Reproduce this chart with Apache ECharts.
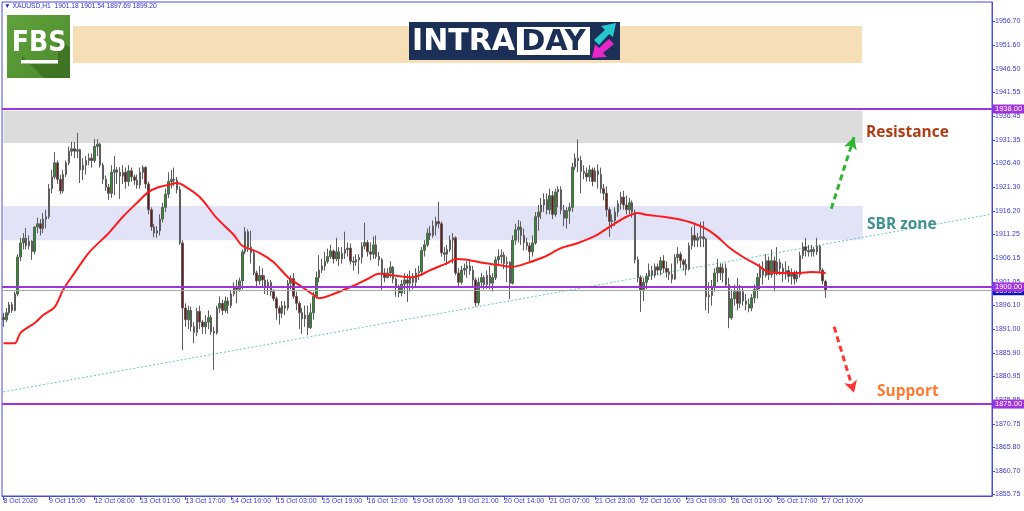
<!DOCTYPE html>
<html><head><meta charset="utf-8">
<script src="https://cdn.jsdelivr.net/npm/echarts@6/dist/echarts.min.js"></script>
<style>html,body{margin:0;padding:0;background:#fff}#c{width:1024px;height:511px}</style>
</head><body><div id="c"></div><script>
// ---------- data ----------
const xTickLabels = ['8 Oct 2020','9 Oct 15:00','12 Oct 08:00','13 Oct 01:00','13 Oct 17:00','14 Oct 10:00','15 Oct 03:00','15 Oct 19:00','16 Oct 12:00','19 Oct 05:00','19 Oct 21:00','20 Oct 14:00','21 Oct 07:00','21 Oct 23:00','22 Oct 16:00','23 Oct 09:00','26 Oct 01:00','26 Oct 17:00','27 Oct 10:00'];
const barsPerXTick = 16;
const slotCount = 348;
const yTickLabels = ['1855.75','1860.70','1865.80','1870.75','1875.85','1880.95','1885.90','1891.00','1896.10','1901.05','1906.15','1911.25','1916.20','1921.30','1926.40','1931.35','1936.45','1941.55','1946.50','1951.60','1956.70'];
const yMin = 1855.37, yMax = 1960.85;
// candles: [open, close, low, high]
const candles = [
[1893.5,1893,1891.5,1894.5],[1893,1894.5,1892.5,1895.5],[1894.5,1896.2,1894,1896.8],[1896.2,1895,1894.5,1896.8],[1895,1898.5,1894.8,1899],
[1898.5,1906.4,1898,1907],[1906.4,1909.4,1905.5,1910.5],[1909.4,1910.4,1908,1911.5],[1910.4,1908.8,1908,1912.6],[1908.8,1909.8,1908,1911],
[1909.8,1907.6,1905.8,1910],[1907.6,1912.8,1907,1913],[1912.8,1913.5,1911.5,1914.8],[1913.5,1912.5,1911,1914.5],[1912.5,1914.5,1911.5,1915.8],
[1914.5,1915,1912.5,1916.5],[1915,1921,1914.5,1922],[1921,1923.5,1920,1925],[1923.5,1926.5,1923,1928.8],[1926.5,1923,1922,1927],
[1923,1920.5,1919.8,1924],[1920.5,1924,1920,1925],[1924,1926.5,1923.5,1927],[1926.5,1929,1926,1930],[1929,1929.5,1928,1931],
[1929.5,1929,1927.5,1931],[1929,1929.3,1927.5,1932.9],[1929.3,1925,1922.2,1929.5],[1925,1926,1922.8,1927.5],[1926,1927,1924,1928],
[1927,1927.5,1926,1928.5],[1927.5,1927,1925.5,1928.5],[1927,1930,1926.5,1931.6],[1930,1930.5,1928,1931.6],[1930.5,1926,1925.5,1930.8],
[1926,1923,1922,1926.5],[1923,1921.3,1920.5,1923.8],[1921.3,1920,1918.6,1922],[1920,1924.5,1919,1926],[1924.5,1925,1919.6,1928],
[1925,1924.5,1922,1925.6],[1924.5,1923.7,1918.8,1925.6],[1923.7,1924.5,1922,1926],[1924.5,1922.5,1921,1925.5],[1922.5,1924.8,1921.5,1926],
[1924.8,1923.5,1922.5,1925.5],[1923.5,1922.8,1921.8,1924],[1922.8,1921.8,1921,1924],[1921.8,1924.5,1921,1925.5],[1924.5,1925.5,1923,1926],
[1925.5,1922,1921,1925.8],[1922,1916.5,1915.5,1922.5],[1916.5,1912.8,1912,1917],[1912.8,1911.5,1910.6,1913.5],[1911.5,1912,1910.5,1913],
[1912,1914.5,1911,1915.5],[1914.5,1917,1913.8,1918],[1917,1919.8,1916,1921],[1919.8,1922.5,1919,1924.5],[1922.5,1923,1921,1925],
[1923,1922.8,1921.5,1925.5],[1922.8,1920.8,1920,1923.5],[1920.8,1909.4,1909,1921.5],[1909.4,1895.5,1886.5,1910],[1895.5,1893,1891.5,1896.5],
[1893,1895,1891,1896],[1895,1891.5,1890.5,1895.8],[1891.5,1890.3,1888,1892.5],[1890.3,1894.8,1889.5,1895.6],[1894.8,1892.5,1891,1896],
[1892.5,1891.5,1890,1893],[1891.5,1892.5,1890,1894],[1892.5,1893.5,1891,1895],[1893.5,1890.5,1889.8,1894],[1890.5,1890.2,1882.3,1891.5],
[1890.2,1895.5,1889.8,1896],[1895.5,1896.5,1894.5,1898],[1896.5,1895,1894,1897.3],[1895,1897,1894.5,1898],[1897,1896,1894.3,1897.8],
[1896,1898.5,1895.5,1899.4],[1898.5,1900,1898,1901],[1900,1899.5,1896.5,1901.5],[1899.5,1901.3,1899,1902],[1901.3,1907.5,1899.5,1908],
[1907.5,1911.8,1907,1912.8],[1911.8,1908.5,1907.5,1912.3],[1908.5,1907.3,1905,1912],[1907.3,1903,1902.5,1908],[1903,1901.3,1900,1903.5],
[1901.3,1902.5,1900.5,1904.5],[1902.5,1901.5,1900,1904],[1901.5,1900,1898.5,1902.5],[1900,1901,1898.3,1901.6],[1901,1899,1898,1901.5],
[1899,1897.5,1897,1899.5],[1897.5,1895.5,1893,1898],[1895.5,1894.4,1892,1896],[1894.4,1896,1893.4,1897],[1896,1895.5,1894,1897],
[1895.5,1900.8,1895,1901.5],[1900.8,1901.8,1899.5,1902.5],[1901.8,1898,1897.5,1903],[1898,1896.5,1895,1899],[1896.5,1894.5,1891,1897],
[1894.5,1893.2,1890,1895.5],[1893.2,1894,1891.5,1896],[1894,1891.3,1889.7,1896],[1891.3,1894.5,1891,1896.5],[1894.5,1898,1893,1899],
[1898,1902,1897.5,1903.3],[1902,1903.6,1901,1906.8],[1903.6,1904.5,1903,1906],[1904.5,1905.5,1903.5,1907.5],[1905.5,1906.5,1905,1908.2],
[1906.5,1907.7,1906,1909],[1907.7,1906,1905,1908],[1906,1907.5,1905.5,1910.5],[1907.5,1906,1904.5,1908.5],[1906,1907.2,1905,1908.5],
[1907.2,1908,1906,1911.8],[1908,1908.3,1906.5,1909.5],[1908.3,1905.5,1904.8,1909.3],[1905.5,1905.3,1903.5,1906.5],[1905.3,1905.8,1904.5,1907],
[1905.8,1906.3,1902.7,1907],[1906.3,1908.7,1905,1909.6],[1908.7,1909.5,1908,1913.7],[1909.5,1907.5,1906.5,1910],[1907.5,1907,1905.7,1909.5],
[1907,1909,1906,1910.8],[1909,1906.5,1906,1911],[1906.5,1905.8,1904.5,1907.5],[1905.8,1903,1899.4,1906.2],[1903,1902,1901,1904],
[1902,1903,1901.8,1904],[1903,1904.2,1902,1905.5],[1904.2,1901.7,1900.8,1904.5],[1901.7,1900,1897.9,1902],[1900,1898.7,1897.8,1900.5],
[1898.7,1900.6,1898,1901.5],[1900.6,1901.5,1898.5,1903],[1901.5,1900.8,1896.8,1902.8],[1900.8,1902,1899,1903.5],[1902,1901,1899.5,1903],
[1901,1903,1900,1904],[1903,1903.3,1901.5,1904.5],[1903.3,1907.8,1902.5,1908.5],[1907.8,1909,1906.5,1910],[1909,1911.5,1908.5,1912.5],
[1911.5,1911,1910,1913],[1911,1913,1910.5,1914.2],[1913,1914,1911,1915],[1914,1913.5,1912.5,1918.2],[1913.5,1907.3,1906.5,1914],
[1907.3,1907,1905.5,1908.5],[1907,1908,1904.7,1909],[1908,1910,1907.5,1911],[1910,1910.5,1905,1911.5],[1910.5,1903,1902.5,1910.8],
[1903,1901,1900,1904],[1901,1903.6,1900.5,1904.5],[1903.6,1904,1902.5,1905],[1904,1904.5,1902,1905.5],[1904.5,1903.5,1902.6,1905.5],
[1903.5,1901.5,1900,1904.5],[1901.5,1896.6,1895.8,1902],[1896.6,1901,1896,1902],[1901,1902,1900,1903],[1902,1900.5,1899.5,1902.5],
[1900.5,1902.5,1899.6,1903.5],[1902.5,1900.8,1899.5,1904.5],[1900.8,1902,1899,1903],[1902,1905.8,1901.5,1906.5],[1905.8,1906.5,1904.8,1908],
[1906.5,1906.8,1905,1908],[1906.8,1905,1903.8,1907.5],[1905,1905.3,1901,1906.5],[1905.3,1900.8,1897.4,1905.5],[1900.8,1910,1900.5,1911],
[1910,1912.2,1909,1913.5],[1912.2,1912.8,1909.5,1914.3],[1912.8,1911,1909,1914],[1911,1909.5,1907.8,1912.5],[1909.5,1908.8,1907.9,1910.5],
[1908.8,1907.5,1905.5,1909.5],[1907.5,1909.4,1906.5,1911],[1909.4,1915,1909,1916],[1915,1916,1912,1917.5],[1916,1917.5,1914.5,1919],
[1917.5,1918.7,1916,1920],[1918.7,1916.5,1915.5,1920],[1916.5,1919.5,1915.5,1921],[1919.5,1915.5,1914.5,1920.5],[1915.5,1920.3,1915,1921],
[1920.3,1920.8,1917,1921.5],[1920.8,1916.4,1915.5,1921.5],[1916.4,1914.7,1913,1917.5],[1914.7,1916.3,1912.5,1917],[1916.3,1917,1913.5,1918],
[1917,1925.6,1916,1926.5],[1925.6,1927.5,1925,1928.5],[1927.5,1927,1924.5,1931.5],[1927,1924.7,1920,1928],[1924.7,1924.3,1923,1926],
[1924.3,1923.5,1922.5,1925.5],[1923.5,1925,1922.5,1926],[1925,1922.5,1921.5,1925.5],[1922.5,1924.8,1922.5,1925.5],[1924.8,1924,1921,1926.2],
[1924,1921,1920,1925.5],[1921,1920,1918.5,1922],[1920,1916.5,1915,1921.5],[1916.5,1914,1910.7,1917],[1914,1914.2,1912.5,1915.5],
[1914.2,1916,1913,1917],[1916,1917.8,1915,1918.5],[1917.8,1919.2,1916.5,1920.3],[1919.2,1917.5,1916.5,1920.5],[1917.5,1916.5,1915.5,1919.5],
[1916.5,1918,1915.5,1919],[1918,1916,1914.8,1918.5],[1916,1905.8,1905,1916.5],[1905.8,1902,1901,1906.5],[1902,1899.4,1894.7,1902.5],
[1899.4,1901,1897,1902],[1901,1902.3,1899.5,1903],[1902.3,1903.5,1901.5,1905],[1903.5,1902.5,1901.5,1904.5],[1902.5,1904.3,1902,1905],
[1904.3,1903.6,1902.5,1905],[1903.6,1905.6,1902.5,1906.4],[1905.6,1904,1903,1906.8],[1904,1903.2,1902,1905.5],[1903.2,1902.7,1901.5,1904],
[1902.7,1901.7,1900.8,1905],[1901.7,1906.3,1901.5,1907],[1906.3,1907,1905,1908.5],[1907,1905.6,1904,1907.5],[1905.6,1904.8,1903.5,1906],
[1904.8,1903.8,1902.5,1906],[1903.8,1908.8,1903.5,1909.5],[1908.8,1911,1908,1912.8],[1911,1910,1908.5,1913.5],[1910,1910.5,1908.5,1911.5],
[1910.5,1910.7,1908.5,1913.9],[1910.7,1910.3,1908.5,1914],[1910.3,1897.9,1895,1910.5],[1897.9,1898.2,1894.4,1901],[1898.2,1900,1896,1901.5],
[1900,1903,1899,1904],[1903,1904.2,1901,1906],[1904.2,1903,1901.5,1905],[1903,1904,1901,1905],[1904,1900.5,1900,1905],
[1900.5,1893.4,1891.2,1902],[1893.4,1897.5,1893,1899.5],[1897.5,1899,1896,1900.5],[1899,1896.5,1895,1901.9],[1896.5,1899,1895.5,1900.5],
[1899,1897,1896,1900],[1897,1896.3,1895,1898.5],[1896.3,1895.5,1894.6,1897.5],[1895.5,1897.7,1894.8,1898.5],[1897.7,1899.5,1896.5,1900.5],
[1899.5,1902,1897.5,1903],[1902,1904,1899.5,1905],[1904,1902.5,1900.5,1905.5],[1902.5,1905.6,1902,1907],[1905.6,1902.6,1901.5,1906.5],
[1902.6,1905.6,1902,1908],[1905.6,1903,1899,1906.5],[1903,1905.3,1902.5,1908.5],[1905.3,1904,1902.5,1906],[1904,1902.8,1901,1905],
[1902.8,1903.5,1901.6,1905.5],[1903.5,1902.3,1901,1904.5],[1902.3,1903,1900.5,1904],[1903,1901.7,1900.5,1903.5],[1901.7,1902.6,1901,1903.5],
[1902.6,1906.7,1902,1907.5],[1906.7,1908.6,1906,1909.5],[1908.6,1907.8,1906.5,1910.5],[1907.8,1907.5,1906.5,1909],[1907.5,1908,1906.5,1909],
[1908,1907.5,1906.5,1908.5],[1907.5,1908.7,1906.8,1910.5],[1908.7,1903.6,1903,1909],[1903.6,1901.3,1900.5,1904],[1901.18,1899.20,1897.69,1901.54]
];
// moving average samples: [bar index, price]
const maPoints = [[0,1888.0],[4,1888.0],[6,1890.2],[11,1892.3],[14,1894.0],[18,1895.7],[21,1899.4],[25,1903.0],[30,1907.3],[37,1911.5],[42,1915.0],[47,1918.0],[51,1920.3],[54,1921.2],[58,1921.8],[61,1922.2],[63,1921.8],[69,1919.2],[75,1914.7],[81,1911.1],[84,1908.8],[90,1907.3],[95,1905.3],[100,1902.1],[105,1900.0],[109,1898.3],[111,1897.6],[116,1898.5],[122,1900.0],[128,1901.7],[132,1902.8],[138,1902.4],[143,1902.1],[146,1902.4],[150,1903.6],[156,1905.1],[159,1906.0],[163,1905.8],[169,1905.1],[174,1904.7],[179,1904.3],[184,1905.1],[190,1906.4],[196,1908.3],[202,1909.4],[208,1910.9],[214,1913.2],[219,1915.0],[223,1915.8],[226,1915.4],[232,1915.0],[237,1914.5],[242,1913.7],[247,1912.4],[251,1910.7],[255,1908.5],[260,1906.4],[265,1904.7],[269,1903.2],[274,1903.0],[280,1903.0],[284,1903.2],[289,1903.0]];
const trendLine = [[0,1877.6],[347,1915.5]];
const resistanceZone = [1930.75, 1937.58];
const sbrZone = [1910.0, 1917.3];
const zoneEnd = 302;
const levelLines = [1938.00, 1900.00, 1875.00];
const bidLevel = 1899.20;
const upArrow = [[291,1916.7],[299,1932.0]];
const downArrow = [[292,1891.5],[299,1877.4]];
const headerText = 'XAUUSD,H1  1901.18 1901.54 1897.69 1899.20';

// ---------- chart ----------
const categories = Array.from({length: slotCount}, (_, i) => String(i));
const yTickValues = yTickLabels.map(Number);
const axisBlue = '#4b4bd8';
const txtBlue = '#3a3ad6';
const purple = '#a133dc';
const xTickShow = (idx) => idx % barsPerXTick === 0 && idx / barsPerXTick < xTickLabels.length;

const chart = echarts.init(document.getElementById('c'), null, {renderer: 'canvas'});
const option = {
  animation: false,
  backgroundColor: '#ffffff',
  grid: {left: 2, right: 32, top: 2, bottom: 15, show: true, borderColor: axisBlue, borderWidth: 1, backgroundColor: 'transparent'},
  xAxis: {
    type: 'category', data: categories, boundaryGap: true,
    axisLine: {show: true, lineStyle: {color: axisBlue, width: 1}},
    axisTick: {show: true, interval: xTickShow, alignWithLabel: true, length: 4, lineStyle: {color: axisBlue}},
    axisLabel: {show: true, interval: xTickShow, formatter: (v, i) => xTickLabels[Math.round(i / barsPerXTick)] || '',
      align: 'left', margin: 2, fontSize: 7, fontFamily: 'Liberation Sans', color: txtBlue},
    splitLine: {show: false}
  },
  yAxis: {
    type: 'value', position: 'right', min: yMin, max: yMax, scale: true,
    axisLine: {show: true, lineStyle: {color: axisBlue, width: 1}},
    axisTick: {show: true, customValues: yTickValues, length: 3, lineStyle: {color: axisBlue}},
    axisLabel: {show: true, customValues: yTickValues, formatter: (v) => Number(v).toFixed(2), margin: 3,
      fontSize: 7, fontFamily: 'Liberation Sans', color: txtBlue},
    splitLine: {show: false}
  },
  series: [
    {
      name: 'zones', type: 'line', data: [], z: 1, silent: true,
      markArea: {silent: true, data: [
        [{xAxis: 0, yAxis: resistanceZone[1], itemStyle: {color: '#dcdcdc'}}, {xAxis: zoneEnd, yAxis: resistanceZone[0]}],
        [{xAxis: 0, yAxis: sbrZone[1], itemStyle: {color: '#e3e3f8'}}, {xAxis: zoneEnd, yAxis: sbrZone[0]}]
      ]}
    },
    {
      name: 'trend', type: 'line', data: trendLine, z: 2, symbol: 'none', silent: true,
      lineStyle: {color: '#62c8c8', width: 1, type: [2, 2]}
    },
    {
      name: 'XAUUSD', type: 'candlestick', data: candles, z: 3, barWidth: 2,
      itemStyle: {color: '#1f9b1f', color0: '#7d1010', borderColor: '#5c5c5c', borderColor0: '#5c5c5c', borderWidth: 1}
    },
    {
      name: 'MA', type: 'line', data: maPoints, z: 4, symbol: 'none', smooth: 0.3, silent: true,
      lineStyle: {color: '#ff1a1a', width: 2}
    },
    {
      name: 'levels', type: 'line', data: [], z: 5, silent: true,
      markLine: {
        silent: true, symbol: 'none', animation: false,
        label: {show: true, position: 'end', distance: 1, formatter: (p) => Number(p.value).toFixed(2),
          color: '#ffffff', backgroundColor: purple, padding: [1, 2, 0, 2], fontSize: 7.5, fontFamily: 'Liberation Sans'},
        lineStyle: {color: purple, width: 2, type: 'solid'},
        data: [
          {yAxis: bidLevel, lineStyle: {color: '#a8a8a8', width: 1}, label: {backgroundColor: '#1010c8'}},
          ...levelLines.map(v => ({yAxis: v})),
          [{coord: upArrow[0], symbol: 'none', lineStyle: {color: '#2fb52f', width: 3, type: [6, 4]}, label: {show: false}},
           {coord: upArrow[1], symbol: 'arrow', symbolSize: [10, 12]}],
          [{coord: downArrow[0], symbol: 'none', lineStyle: {color: '#ff3535', width: 3, type: [6, 4]}, label: {show: false}},
           {coord: downArrow[1], symbol: 'arrow', symbolSize: [10, 12]}]
        ]
      }
    }
  ],
  graphic: [
    // header
    {type: 'text', left: 4, top: 3, z: 10, style: {text: '\u25BC ' + headerText, fontSize: 6.7, fontFamily: 'Liberation Sans', fill: '#2c2cd8'}},
    // banner
    {type: 'rect', z: 0, shape: {x: 73, y: 26, width: 789, height: 37}, style: {fill: '#f6dfb6'}},
    // FBS logo
    {type: 'rect', z: 10, shape: {x: 7, y: 15, width: 63, height: 63}, style: {fill: new echarts.graphic.LinearGradient(0, 0, 1, 1, [{offset: 0, color: '#62a23c'}, {offset: 1, color: '#4a8a2c'}])}},
    {type: 'polygon', z: 11, shape: {points: [[56,34],[70,48],[70,78],[44,78],[22,56],[22,64],[58,64],[58,52]]}, style: {fill: '#3c6e22', opacity: 0.8}},
    {type: 'text', z: 12, style: {x: 39, y: 44, text: 'FBS', fontSize: 28, fontWeight: 'bold', fontFamily: 'Liberation Sans Narrow, DejaVu Sans Condensed, Liberation Sans', fill: '#ffffff', align: 'center', verticalAlign: 'middle'}},
    {type: 'rect', z: 12, shape: {x: 21, y: 60, width: 37, height: 3.5}, style: {fill: '#ffffff'}},
    // INTRADAY logo
    {type: 'rect', z: 10, shape: {x: 409, y: 22, width: 211, height: 38}, style: {fill: '#1b2f57'}},
    {type: 'text', z: 11, style: {x: 412, y: 42, text: 'INTRA', fontSize: 30, fontWeight: 'bold', fontFamily: 'DejaVu Sans', fill: '#ffffff', verticalAlign: 'middle'}},
    {type: 'rect', z: 11, shape: {x: 517, y: 27, width: 73, height: 28}, style: {fill: '#ffffff'}},
    {type: 'text', z: 12, style: {x: 553.5, y: 42, text: 'DAY', fontSize: 29, fontWeight: 'bold', fontFamily: 'DejaVu Sans', fill: '#1b2f57', align: 'center', verticalAlign: 'middle'}},
    {type: 'polygon', z: 12, shape: {points: [[594,40],[605,30],[601,26],[616,23],[613,37],[609,34],[599,45]]}, style: {fill: '#25c8cc'}},
    {type: 'polygon', z: 12, shape: {points: [[614,44],[603,53],[607,57],[592,58],[595,44],[599,48],[609,39]]}, style: {fill: '#e626c8'}},
    // annotations
    {type: 'text', z: 10, style: {x: 866, y: 133, text: 'Resistance', fontSize: 15.5, fontWeight: 'bold', fontFamily: 'Open Sans', fill: '#b03c16', verticalAlign: 'middle'}},
    {type: 'text', z: 10, style: {x: 867, y: 224.5, text: 'SBR zone', fontSize: 15.5, fontWeight: 'bold', fontFamily: 'Open Sans', fill: '#3f9090', verticalAlign: 'middle'}},
    {type: 'text', z: 10, style: {x: 877, y: 392, text: 'Support', fontSize: 15.5, fontWeight: 'bold', fontFamily: 'Open Sans', fill: '#ff7a30', verticalAlign: 'middle'}}
  ]
};
chart.setOption(option);
</script></body></html>
